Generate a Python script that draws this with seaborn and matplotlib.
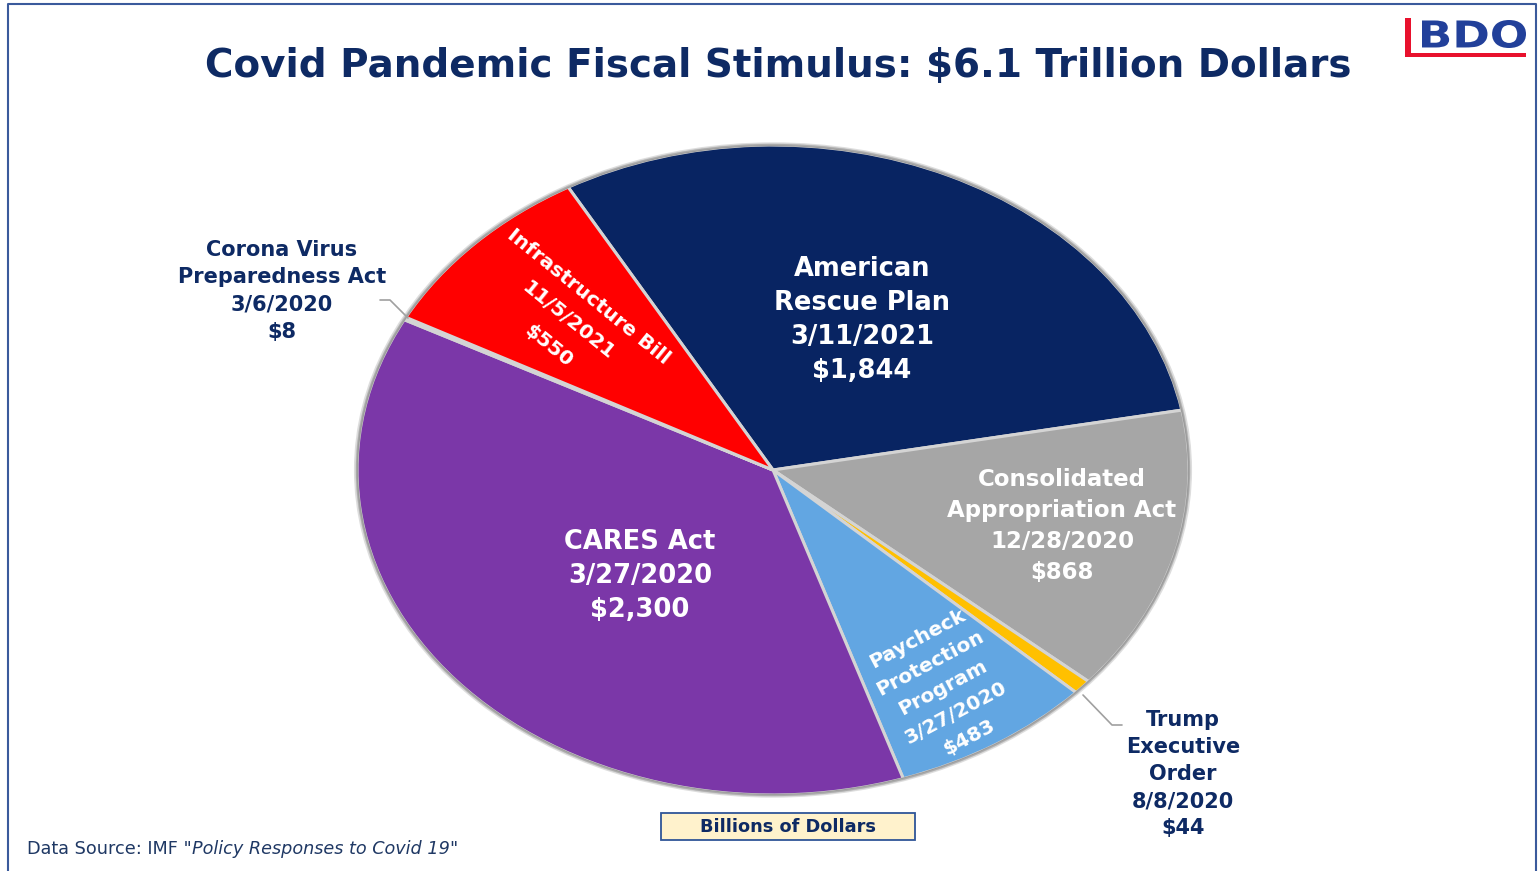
import matplotlib
matplotlib.use("Agg")
import matplotlib.pyplot as plt
from matplotlib.patches import Rectangle, PathPatch, Circle
from matplotlib.lines import Line2D
from matplotlib.textpath import TextPath
from matplotlib.font_manager import FontProperties
from matplotlib.transforms import Affine2D, IdentityTransform
import seaborn as sns

# Stimulus packages, in clockwise order starting from the American Rescue Plan
names = ["American\nRescue Plan", "Consolidated\nAppropriation Act", "Trump\nExecutive\nOrder",
         "Paycheck\nProtection\nProgram", "CARES Act", "Corona Virus\nPreparedness Act",
         "Infrastructure Bill"]
dates = ["3/11/2021", "12/28/2020", "8/8/2020", "3/27/2020", "3/27/2020", "3/6/2020", "11/5/2021"]
values = [1844, 868, 44, 483, 2300, 8, 550]
colors = ["#082462", "#A6A6A6", "#FFC000", "#62A6E2", "#7B37A8", "#D0D0D0", "#FF0000"]

title = "Covid Pandemic Fiscal Stimulus: $6.1 Trillion Dollars"
units = "Billions of Dollars"
source_plain = 'Data Source: IMF "'
source_italic = 'Policy Responses to Covid 19'

sns.set_theme(style="white")
plt.rcParams["font.family"] = ["DejaVu Sans"]

W, H = 1538, 871
fig = plt.figure(figsize=(W / 100, H / 100), dpi=100)
fig.patch.set_facecolor("white")

NAVY = "#0E2A64"


def px(x, y):
    return x / W, 1 - y / H


# elliptical pie: centre and radii in pixels, with a little margin for the rim
cx, cy, rx, ry = 773, 470, 416, 325
pad = 1.01
ax = fig.add_axes([(cx - rx * pad) / W, (H - cy - ry * pad) / H,
                   2 * rx * pad / W, 2 * ry * pad / H])
wedges, _ = ax.pie(values, colors=colors, startangle=119.5, counterclock=False,
                   radius=1.0,
                   wedgeprops=dict(edgecolor="#D4D4D4", linewidth=2.2, antialiased=True))
# soft grey rim around the pie
ax.add_patch(Circle((0, 0), 1.0, fill=False, edgecolor="#8E8E8E", linewidth=1.6, alpha=0.8))
ax.add_patch(Circle((0, 0), 1.004, fill=False, edgecolor="#BDBDBD", linewidth=2.0, alpha=0.5))
ax.set_aspect("auto")
ax.set_xlim(-pad, pad)
ax.set_ylim(-pad, pad)
ax.axis("off")


def label(i):
    return f"{names[i]}\n{dates[i]}\n${values[i]:,}"


# labels inside the slices
fig.text(*px(862, 320), label(0), color="white", fontsize=18.5, fontweight="bold",
         ha="center", va="center", ma="center", linespacing=1.4)
fig.text(*px(1062, 526), label(1), color="white", fontsize=16.5, fontweight="bold",
         ha="center", va="center", ma="center", linespacing=1.43)
fig.text(*px(943, 688), label(3), color="white", fontsize=14.5, fontweight="bold",
         ha="center", va="center", ma="center", linespacing=1.58, rotation=28,
         rotation_mode="anchor")
fig.text(*px(640, 576), label(4), color="white", fontsize=18.5, fontweight="bold",
         ha="center", va="center", ma="center", linespacing=1.4)
fig.text(*px(568, 321), label(6), color="white", fontsize=14.5, fontweight="bold",
         ha="center", va="center", ma="center", linespacing=1.85, rotation=-39,
         rotation_mode="anchor")

# labels outside the pie with leader lines
fig.text(*px(282, 291), label(5), color=NAVY, fontsize=15, fontweight="bold",
         ha="center", va="center", ma="center", linespacing=1.45)
fig.text(*px(1183, 774), label(2), color=NAVY, fontsize=15, fontweight="bold",
         ha="center", va="center", ma="center", linespacing=1.45)

for pts in ([(380, 300), (390, 300), (408, 318)],
            [(1083, 695), (1112, 725), (1122, 725)]):
    xs = [px(*p)[0] for p in pts]
    ys = [px(*p)[1] for p in pts]
    fig.add_artist(Line2D(xs, ys, color="#A0A0A0", linewidth=1.2))

# title
fig.text(*px(778, 66), title, color=NAVY, fontsize=28, fontweight="bold",
         ha="center", va="center")

# BDO logo: lettering stretched into its box (pixel coordinates, origin bottom-left)
tp = TextPath((0, 0), "BDO", size=1, prop=FontProperties(family="DejaVu Sans", weight="bold"))
ext = tp.get_extents()
x0, x1, ytop, ybot = 1422, 1526, 20, 48
sx = (x1 - x0) / ext.width
sy = (ybot - ytop) / ext.height
logo = Affine2D().translate(-ext.x0, -ext.y0).scale(sx, sy).translate(x0, H - ybot)
fig.add_artist(PathPatch(logo.transform_path(tp), transform=IdentityTransform(),
                         facecolor="#22409A", edgecolor="none"))
fig.add_artist(Rectangle(px(1405, 57), 6 / W, 39 / H, transform=fig.transFigure,
                         facecolor="#E8112D", edgecolor="none"))
fig.add_artist(Rectangle(px(1405, 57), 121 / W, 4 / H, transform=fig.transFigure,
                         facecolor="#E8112D", edgecolor="none"))

# units box
fig.add_artist(Rectangle(px(661, 840), 254 / W, 27 / H, transform=fig.transFigure,
                         facecolor="#FFF2CC", edgecolor="#2F5597", linewidth=1.3))
fig.text(*px(788, 827), units, color=NAVY, fontsize=12.8, fontweight="bold",
         ha="center", va="center")

# data source note
t1 = fig.text(*px(27, 849), source_plain, color="#1F3864", fontsize=12.7,
              ha="left", va="center")
a2 = ax.annotate(source_italic, xy=(1, 0), xycoords=t1, color="#1F3864",
                 fontsize=12.7, style="italic", ha="left", va="bottom",
                 annotation_clip=False)
ax.annotate('"', xy=(1, 0), xycoords=a2, color="#1F3864", fontsize=12.7,
            ha="left", va="bottom", annotation_clip=False)

# frame border
fig.add_artist(Line2D([8 / W, 8 / W, 1536 / W, 1536 / W], [0, 1 - 4 / H, 1 - 4 / H, 0],
                      color="#3A5A9C", linewidth=1.5))

fig.savefig("out.png", dpi=100, facecolor="white")
